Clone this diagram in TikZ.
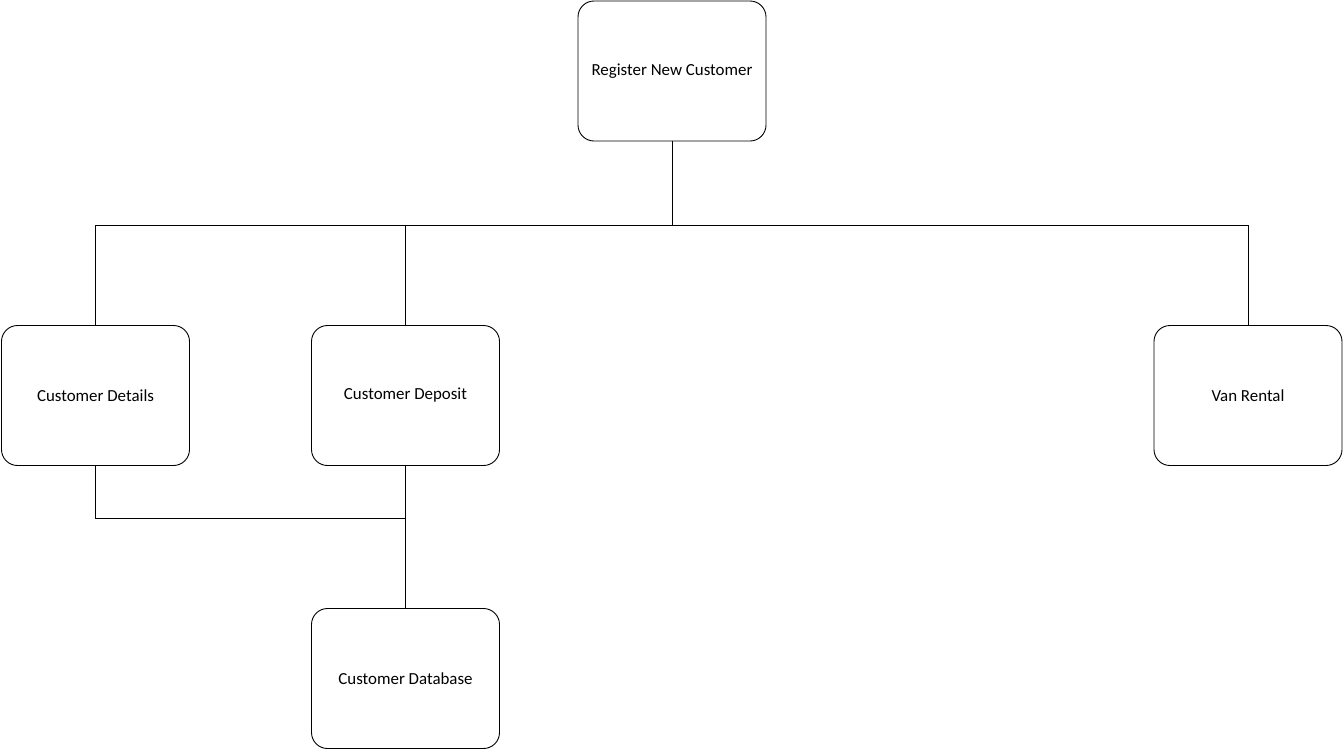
\documentclass[tikz,border=0pt]{standalone}
\usepackage{fontspec}
\setmainfont{Carlito}
\begin{document}
\begin{tikzpicture}[x=1pt,y=-1pt,
  box/.style={draw=black,line width=0.9pt,rounded corners=16pt,minimum width=188pt,minimum height=140pt,inner sep=0pt,align=center,font=\fontsize{16.9}{20}\selectfont},
  conn/.style={draw=black,line width=0.9pt}]
\useasboundingbox[fill=white] (0,0) rectangle (1344,750);
\node[box] (reg) at (672,71) {Register New Customer};
\node[box] (det) at (95.5,395.5) {Customer Details};
\node[box] (dep) at (405.5,395.5) {Customer Deposit};
\node[box] (van) at (1248,395.5) {Van Rental};
\node[box] (db) at (405.5,678.5) {Customer Database};
\coordinate (j1) at (672,225.5);
\coordinate (j2) at (405.5,518);
\draw[conn] (reg.south) -- (j1);
\draw[conn] (j1) -| (det.north);
\draw[conn] (j1) -| (dep.north);
\draw[conn] (j1) -| (van.north);
\draw[conn] (det.south) |- (j2);
\draw[conn] (dep.south) -- (db.north);
\end{tikzpicture}
\end{document}
